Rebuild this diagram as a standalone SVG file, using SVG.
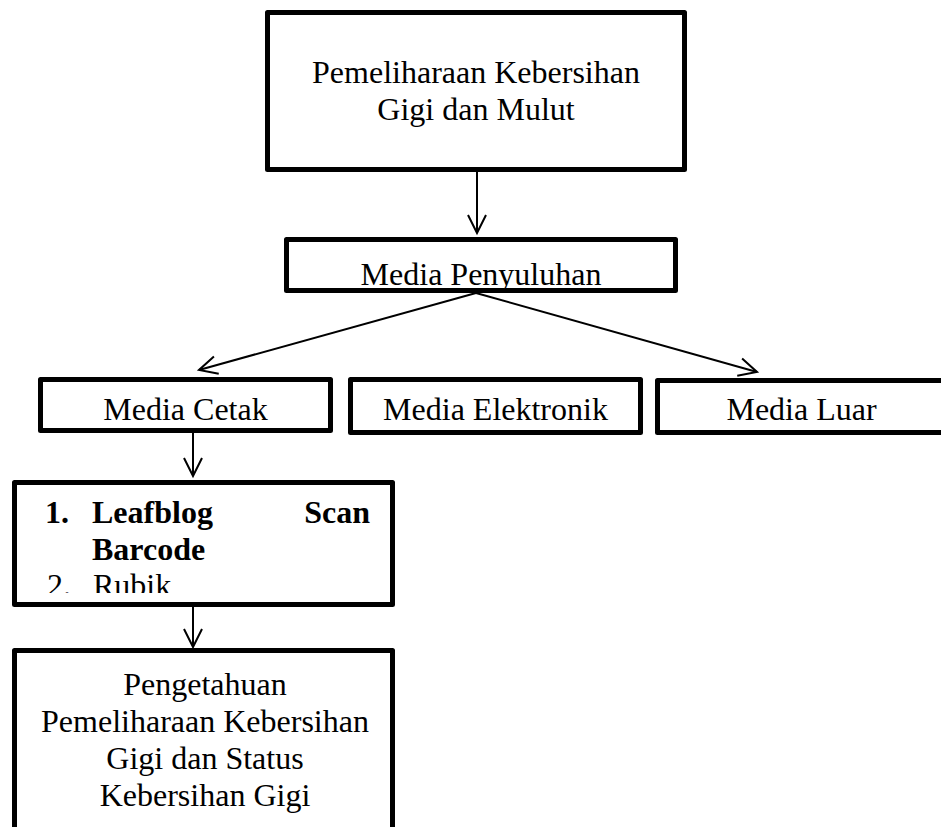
<svg xmlns="http://www.w3.org/2000/svg" width="941" height="827" viewBox="0 0 941 827">
<style>
.box{fill:#fff;stroke:#000;stroke-width:5;stroke-linejoin:round}
.t{font-family:"Liberation Serif","Times New Roman",serif;font-size:32px;fill:#000}
.c{text-anchor:middle}
.b{font-weight:bold}
.con{stroke:#000;stroke-width:2;fill:none}
</style>
<defs>
<marker id="arr" markerUnits="userSpaceOnUse" markerWidth="24" markerHeight="24" viewBox="-20 -12 24 24" refX="0" refY="0" orient="auto">
<path d="M-18,-9 L0,0 L-18,9" fill="none" stroke="#000" stroke-width="2"/>
</marker>
<clipPath id="clipList"><rect x="17" y="485" width="373" height="108"/></clipPath>
<clipPath id="clipMP"><rect x="289" y="242" width="384" height="46"/></clipPath>
</defs>
<g id="connectors">
<line class="con" x1="477" y1="172" x2="477" y2="233" marker-end="url(#arr)"/>
<line class="con" x1="476" y1="293" x2="199" y2="370" marker-end="url(#arr)"/>
<line class="con" x1="476" y1="293" x2="757" y2="372" marker-end="url(#arr)"/>
<line class="con" x1="193" y1="433" x2="193" y2="476" marker-end="url(#arr)"/>
<line class="con" x1="193" y1="607" x2="193" y2="647" marker-end="url(#arr)"/>
</g>
<g id="n-top">
<rect class="box" x="267.5" y="12.5" width="417" height="157"/>
<text class="t c" x="476" y="83">Pemeliharaan Kebersihan</text>
<text class="t c" x="476" y="120">Gigi dan Mulut</text>
</g>
<g id="n-penyuluhan">
<rect class="box" x="286.5" y="239.5" width="389" height="51"/>
<text class="t c" x="481" y="285" clip-path="url(#clipMP)">Media Penyuluhan</text>
</g>
<g id="n-cetak">
<rect class="box" x="40.5" y="379.5" width="290" height="51"/>
<text class="t c" x="185.5" y="420">Media Cetak</text>
</g>
<g id="n-elektronik">
<rect class="box" x="350.5" y="379.5" width="290" height="53"/>
<text class="t c" x="495.5" y="420">Media Elektronik</text>
</g>
<g id="n-luar">
<rect class="box" x="657.5" y="380.5" width="288" height="52"/>
<text class="t c" x="801.5" y="420">Media Luar</text>
</g>
<g id="n-list">
<rect class="box" x="14.5" y="482.5" width="378" height="122"/>
<g clip-path="url(#clipList)">
<text class="t b" x="45" y="523">1.</text>
<text class="t b" x="92" y="523">Leafblog</text>
<text class="t b" x="370" y="523" text-anchor="end">Scan</text>
<text class="t b" x="92" y="560">Barcode</text>
<text class="t" x="47" y="596">2.</text>
<text class="t" x="93" y="596">Rubik</text>
</g>
</g>
<g id="n-pengetahuan">
<rect class="box" x="14.5" y="650.5" width="378" height="200"/>
<text class="t c" x="205" y="695">Pengetahuan</text>
<text class="t c" x="205" y="732">Pemeliharaan Kebersihan</text>
<text class="t c" x="205" y="769">Gigi dan Status</text>
<text class="t c" x="205" y="806">Kebersihan Gigi</text>
</g>
</svg>
